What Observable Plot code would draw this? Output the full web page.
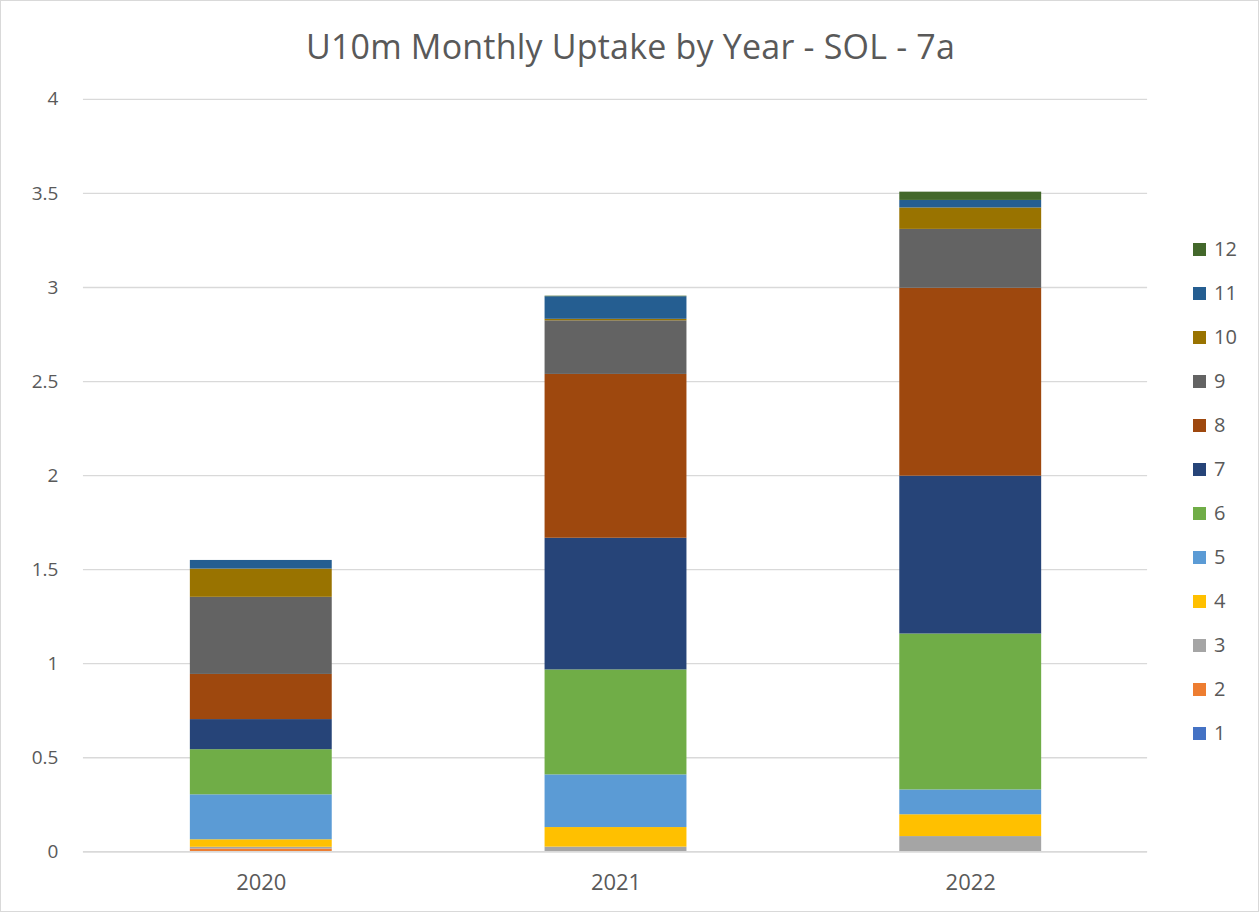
<!DOCTYPE html>
<html>
<head>
<meta charset="utf-8">
<script src="https://cdn.jsdelivr.net/npm/d3@7"></script>
<script src="https://cdn.jsdelivr.net/npm/@observablehq/plot@0.6"></script>
<style>
  html, body { margin: 0; padding: 0; background: #fff; }
  #wrap { position: relative; width: 1259px; height: 912px; box-sizing: border-box; border: 1px solid #d9d9d9; font-family: "Open Sans", "Liberation Sans", sans-serif; overflow: hidden; }
  #chart { position: absolute; left: -1px; top: -1px; }
  #title { position: absolute; left: 0; width: 1259px; top: 22px; height: 46px; line-height: 46px; text-align: center; font-size: 34px; letter-spacing: 0.2px; color: #595959; }
  #legend { position: absolute; left: 1192px; top: 0; }
  .li { position: absolute; left: 0; height: 24px; line-height: 24px; display: flex; align-items: center; font-size: 20px; color: #595959; white-space: nowrap; }
  .sw { width: 13px; height: 13px; margin-right: 8px; }
</style>
</head>
<body>
<div id="wrap">
  <div id="chart"></div>
  <div id="title">U10m Monthly Uptake by Year - SOL - 7a</div>
  <div id="legend"></div>
</div>
<script>
const years = ["2020", "2021", "2022"];
const months = [1, 2, 3, 4, 5, 6, 7, 8, 9, 10, 11, 12];
const monthColors = ["#4472C4", "#ED7D31", "#A5A5A5", "#FFC000", "#5B9BD5", "#70AD47", "#264478", "#9E480E", "#636363", "#997300", "#255E91", "#43682B"];
const values2020 = [0, 0.015, 0.009, 0.04, 0.239, 0.24, 0.16, 0.24, 0.41, 0.15, 0.046, 0];
const values2021 = [0, 0, 0.025, 0.104, 0.28, 0.558, 0.70, 0.871, 0.285, 0.008, 0.12, 0.003];
const values2022 = [0, 0, 0.081, 0.116, 0.132, 0.829, 0.839, 0.999, 0.313, 0.114, 0.04, 0.044];
const yTicks = [0, 0.5, 1, 1.5, 2, 2.5, 3, 3.5, 4];

const byYear = {"2020": values2020, "2021": values2021, "2022": values2022};
const data = [];
for (const y of years) months.forEach((m, i) => data.push({year: y, month: m, value: byYear[y][i]}));

const chart = Plot.plot({
  width: 1259,
  height: 912,
  marginTop: 99,
  marginBottom: 60,
  marginLeft: 83,
  marginRight: 111,
  style: {fontFamily: '"Open Sans", "Liberation Sans", sans-serif', background: "transparent"},
  x: {domain: years, paddingInner: 0.6, paddingOuter: 0.3, label: null},
  y: {domain: [0, 4], label: null},
  color: {domain: months, range: monthColors},
  marks: [
    Plot.gridY(yTicks, {stroke: "#d9d9d9", strokeOpacity: 1, strokeWidth: 1.3}),
    Plot.barY(data, {x: "year", y: "value", fill: "month"}),
    Plot.ruleY([0], {stroke: "#d9d9d9", strokeWidth: 1.5}),
    Plot.axisY(yTicks, {tickSize: 0, tickPadding: 25, fontSize: 19, fill: "#595959", tickFormat: d => String(d), label: null}),
    Plot.axisX({tickSize: 0, tickPadding: 23, fontSize: 22, fill: "#595959", label: null})
  ]
});
document.getElementById("chart").appendChild(chart);

const legend = document.getElementById("legend");
months.slice().reverse().forEach((m, i) => {
  const row = document.createElement("div");
  row.className = "li";
  row.style.top = (249 - 13 + i * 44) + "px";
  const sw = document.createElement("span");
  sw.className = "sw";
  sw.style.background = monthColors[m - 1];
  row.appendChild(sw);
  row.appendChild(document.createTextNode(String(m)));
  legend.appendChild(row);
});
</script>
</body>
</html>
